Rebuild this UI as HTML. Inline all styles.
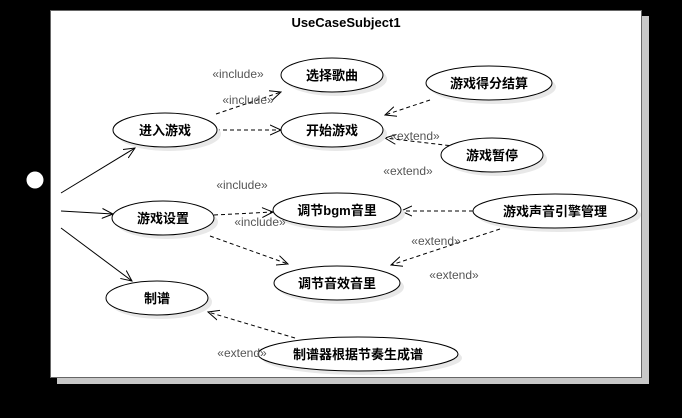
<!DOCTYPE html>
<html><head><meta charset="utf-8"><style>
html,body{margin:0;padding:0;background:#000;}
svg{display:block;}
.t{font-family:"Liberation Sans","Noto Sans CJK SC",sans-serif;font-size:13px;font-weight:bold;fill:#000;text-anchor:middle;}
.l{font-family:"Liberation Sans",sans-serif;font-size:12px;fill:#555;text-anchor:middle;}
</style></head><body>
<svg width="682" height="418" viewBox="0 0 682 418" xmlns="http://www.w3.org/2000/svg">
<defs>
<marker id="a" viewBox="0 0 12 12" refX="11" refY="6" markerWidth="12" markerHeight="12" markerUnits="userSpaceOnUse" orient="auto">
<path d="M0,1 L11,6 L0,11" fill="none" stroke="#000" stroke-width="1"/></marker>
</defs>
<rect x="0" y="0" width="682" height="418" fill="#000"/>
<rect x="57" y="16" width="592" height="368" fill="#c8c8c8"/>
<rect x="50.5" y="10.5" width="591" height="367" fill="#fff" stroke="#666" stroke-width="1"/>
<text x="346" y="27" class="t" style="font-size:13px">UseCaseSubject1</text>
<circle cx="35" cy="180" r="8.5" fill="#fff"/>
<g stroke="#000" stroke-width="1" fill="none">
<line x1="61" y1="193" x2="135" y2="148" marker-end="url(#a)"/>
<line x1="61" y1="211" x2="113" y2="214" marker-end="url(#a)"/>
<line x1="61" y1="228" x2="132" y2="281" marker-end="url(#a)"/>
</g>
<g stroke="#000" stroke-width="1" fill="none" stroke-dasharray="4,3">
<line x1="216" y1="114" x2="281" y2="92" marker-end="url(#a)"/>
<line x1="216" y1="130" x2="281" y2="130" marker-end="url(#a)"/>
<line x1="430" y1="100" x2="385" y2="115" marker-end="url(#a)"/>
<line x1="470" y1="148" x2="385" y2="138" marker-end="url(#a)"/>
<line x1="214" y1="215" x2="273" y2="212" marker-end="url(#a)"/>
<line x1="210" y1="236" x2="288" y2="264" marker-end="url(#a)"/>
<line x1="473" y1="211" x2="401" y2="211" marker-end="url(#a)"/>
<line x1="500" y1="229" x2="391" y2="265" marker-end="url(#a)"/>
<line x1="295" y1="338" x2="208" y2="312" marker-end="url(#a)"/>
</g>
<g fill="#e8e8e8">
<ellipse cx="336" cy="79" rx="51" ry="17"/>
<ellipse cx="493" cy="87" rx="63" ry="17"/>
<ellipse cx="169" cy="134" rx="52" ry="17"/>
<ellipse cx="336" cy="134" rx="51" ry="17"/>
<ellipse cx="496" cy="159" rx="51" ry="17"/>
<ellipse cx="167" cy="222" rx="51" ry="17"/>
<ellipse cx="341" cy="214" rx="64" ry="17"/>
<ellipse cx="559" cy="215" rx="82" ry="17"/>
<ellipse cx="341" cy="287" rx="63" ry="17"/>
<ellipse cx="161" cy="302" rx="51" ry="17"/>
<ellipse cx="362" cy="358" rx="100" ry="17"/>
</g>
<g fill="#fff" stroke="#000" stroke-width="1">
<ellipse cx="332" cy="75" rx="51" ry="17"/>
<ellipse cx="489" cy="83" rx="63" ry="17"/>
<ellipse cx="165" cy="130" rx="52" ry="17"/>
<ellipse cx="332" cy="130" rx="51" ry="17"/>
<ellipse cx="492" cy="155" rx="51" ry="17"/>
<ellipse cx="163" cy="218" rx="51" ry="17"/>
<ellipse cx="337" cy="210" rx="64" ry="17"/>
<ellipse cx="555" cy="211" rx="82" ry="17"/>
<ellipse cx="337" cy="283" rx="63" ry="17"/>
<ellipse cx="157" cy="298" rx="51" ry="17"/>
<ellipse cx="358" cy="354" rx="100" ry="17"/>
</g>
<text x="332" y="80" class="t">选择歌曲</text>
<text x="489" y="88" class="t">游戏得分结算</text>
<text x="165" y="135" class="t">进入游戏</text>
<text x="332" y="135" class="t">开始游戏</text>
<text x="492" y="160" class="t">游戏暂停</text>
<text x="163" y="223" class="t">游戏设置</text>
<text x="337" y="215" class="t">调节bgm音里</text>
<text x="555" y="216" class="t">游戏声音引擎管理</text>
<text x="337" y="288" class="t">调节音效音里</text>
<text x="157" y="303" class="t">制谱</text>
<text x="358" y="359" class="t">制谱器根据节奏生成谱</text>
<text x="238" y="78" class="l">«include»</text>
<text x="248" y="104" class="l">«include»</text>
<text x="242" y="189" class="l">«include»</text>
<text x="260" y="226" class="l">«include»</text>
<text x="415" y="140" class="l">«extend»</text>
<text x="408" y="175" class="l">«extend»</text>
<text x="436" y="245" class="l">«extend»</text>
<text x="454" y="279" class="l">«extend»</text>
<text x="242" y="357" class="l">«extend»</text>
</svg>
</body></html>
